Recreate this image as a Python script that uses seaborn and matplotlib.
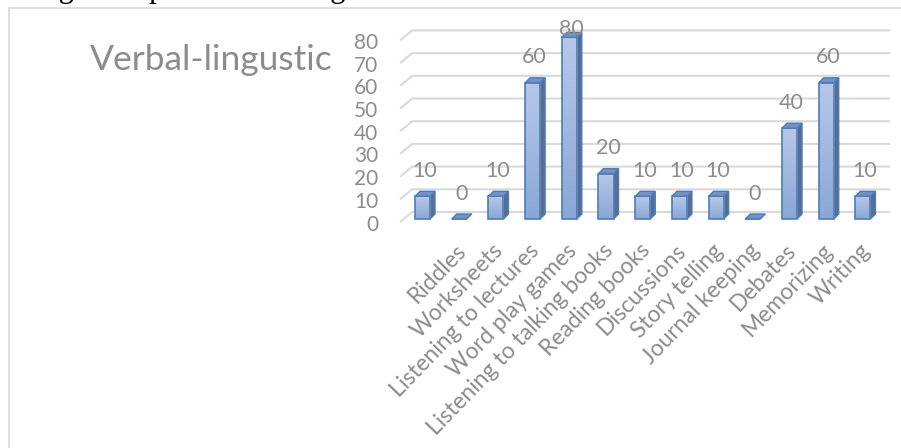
import numpy as np
import pandas as pd
import matplotlib
matplotlib.use("Agg")
import matplotlib.pyplot as plt
import seaborn as sns
from matplotlib.patches import Polygon
from matplotlib.lines import Line2D
from matplotlib.transforms import ScaledTranslation
from matplotlib.colors import LinearSegmentedColormap

# ---- data -------------------------------------------------------------
categories = ["", "Riddles", "Worksheets", "Listening to lectures", "Word play games",
              "Listening to talking books", "Reading books", "Discussions",
              "Story telling", "Journal keeping", "Debates", "Memorizing", "Writing"]
values = [10, 0, 10, 60, 80, 20, 10, 10, 10, 0, 40, 60, 10]
y_ticks = [0, 10, 20, 30, 40, 50, 60, 70, 80]
title = "Verbal-lingustic"
caption_tail = "ntelligences presented in Figure below."

# ---- style ------------------------------------------------------------
sns.set_theme(style="white")
plt.rcParams['font.family'] = ['Lato', 'DejaVu Sans']
GRAY_TEXT = "#8c8c8c"
GRID = "#d9d9d9"
EDGE = "#4a7ebb"
SIDE = "#5b6d8e"
TOP = "#7590c4"
front_cmap = LinearSegmentedColormap.from_list("front", ["#8ba7d6", "#b6c8e8"])

W, H, DPI = 901, 448, 100
fig = plt.figure(figsize=(W / DPI, H / DPI), dpi=DPI)
fig.patch.set_facecolor("white")

# plot area in pixels (left/right of front plane, baseline and top from image top)
left_px, right_px = 404.15, 881.25
base_px, top_px = 219.0, 37.4
ax = fig.add_axes([left_px / W, (H - base_px) / H,
                   (right_px - left_px) / W, (base_px - top_px) / H])

df = pd.DataFrame({"activity": categories, "count": values})
sns.barplot(data=df, x="activity", y="count", order=categories, ax=ax,
            width=0.41, color="#9fb7df", saturation=1,
            edgecolor=EDGE, linewidth=1.2, zorder=4)
bars = list(ax.patches)

ax.set_xlim(-0.5, len(categories) - 0.5)
ax.set_ylim(0, max(y_ticks))
ax.set_xlabel("")
ax.set_ylabel("")
for s in ax.spines.values():
    s.set_visible(False)
ax.set_facecolor("none")

# pixels per data unit
sx = ax.bbox.width / (len(categories))
sy = ax.bbox.height / max(y_ticks)

# ---- gridlines on the back wall with the short floor-edge slant ------
x_lo, x_hi = -0.5, len(categories) - 0.5
for v in y_ticks:
    ax.plot([x_lo - 4 / sx, x_lo + 8 / sx, x_hi + 9 / sx],
            [v - 3 / sy, v + 7 / sy, v + 7 / sy],
            color=GRID, lw=1.5, clip_on=False, zorder=1,
            solid_capstyle="butt", solid_joinstyle="miter")

# ---- 3D bar faces ----------------------------------------------------
DX, DY = 5, 5
grad = np.linspace(0, 1, 64).reshape(-1, 1)
for p in bars:
    x0, w, h = p.get_x(), p.get_width(), p.get_height()
    x1 = x0 + w
    ddx, ddy = DX / sx, DY / sy
    if h > 0:
        side = Polygon([(x1, 0), (x1, h), (x1 + ddx, h + ddy), (x1 + ddx, ddy)],
                       closed=True, facecolor=SIDE, edgecolor=EDGE, lw=1.0,
                       zorder=3, clip_on=False)
        ax.add_patch(side)
        im = ax.imshow(grad, extent=[x0, x1, 0, h], origin="lower",
                       aspect="auto", cmap=front_cmap, zorder=3.5,
                       interpolation="bilinear")
        im.set_clip_path(p)
    top = Polygon([(x0, h), (x1, h), (x1 + ddx, h + ddy), (x0 + ddx, h + ddy)],
                  closed=True, facecolor=TOP, edgecolor=EDGE, lw=1.0,
                  zorder=5, clip_on=False)
    ax.add_patch(top)
    p.set_facecolor("none")
    p.set_clip_on(False)

ax.set_xlim(-0.5, len(categories) - 0.5)
ax.set_ylim(0, max(y_ticks))
ax.set_aspect("auto")

# ---- value labels ----------------------------------------------------
LIFT = 19.5      # px from bar top to label baseline
CEILING = 183.5  # highest label baseline, px above the axis baseline
for p, v in zip(bars, values):
    cx = p.get_x() + p.get_width() / 2
    lift = min(LIFT, CEILING - v * sy)
    ax.annotate(f"{v}", xy=(cx, v), xytext=(2, lift), textcoords="offset pixels",
                ha="center", va="baseline", fontsize=15.5, color=GRAY_TEXT,
                annotation_clip=False, zorder=6)

# ---- axis tick labels ------------------------------------------------
ax.set_yticks(y_ticks)
ax.set_yticklabels([str(t) for t in y_ticks])
ax.tick_params(axis="y", length=0, pad=18.7, labelsize=15, labelcolor=GRAY_TEXT)
shift_y = ScaledTranslation(0, -3.5 / DPI, fig.dpi_scale_trans)
for lab in ax.get_yticklabels():
    lab.set_transform(lab.get_transform() + shift_y)

ax.set_xticks(range(len(categories)))
ax.set_xticklabels(categories, rotation=46, ha="right", va="top",
                   rotation_mode="anchor")
ax.tick_params(axis="x", length=0, pad=15.0, labelsize=16.5, labelcolor=GRAY_TEXT)
shift_x = ScaledTranslation(-4 / DPI, 0, fig.dpi_scale_trans)
for lab in ax.get_xticklabels():
    lab.set_transform(lab.get_transform() + shift_x)

# ---- title, frame and the running text above -------------------------
fig.text(90 / W, (H - 70) / H, title, ha="left", va="baseline",
         fontsize=25.5, color=GRAY_TEXT)

frame_y = 1 - 8 / H
frame_x = 9 / W
fig.add_artist(Line2D([frame_x, 1], [frame_y, frame_y], color=GRID, lw=1.2,
                      transform=fig.transFigure))
fig.add_artist(Line2D([frame_x, frame_x], [0, frame_y], color=GRID, lw=1.2,
                      transform=fig.transFigure))

fig.text(-4 / W, 1 + 3.0 / H, caption_tail, ha="left", va="baseline",
         fontsize=22, color="black", family=["Liberation Serif", "DejaVu Serif"])

fig.savefig("out.png", dpi=DPI, facecolor="white")
